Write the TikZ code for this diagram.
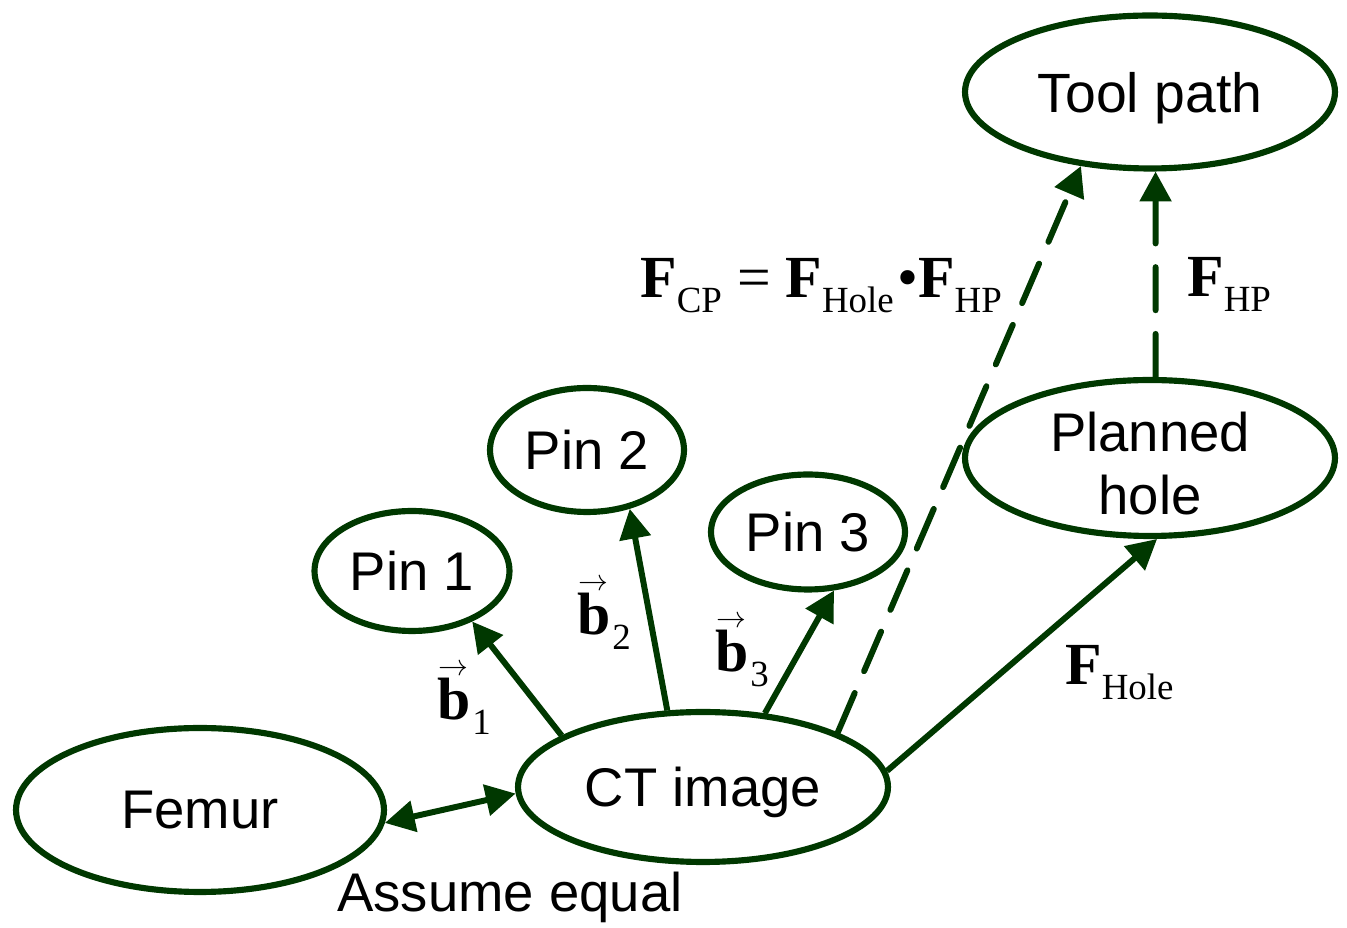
\documentclass[tikz,border=0pt]{standalone}
\usepackage{fontspec}
\setmainfont{Liberation Sans}
\newfontfamily\serifrm{Liberation Serif}
\usetikzlibrary{shapes.geometric,arrows.meta}
\definecolor{dg}{RGB}{0,56,0}
\newcommand\Fsub[1]{{\serifrm\fontsize{34}{38}\selectfont\bfseries F}{\serifrm\fontsize{21}{24}\selectfont\raisebox{-8pt}{#1}}}
\newcommand\bsub[1]{{\serifrm\fontsize{34}{38}\selectfont\bfseries\rlap{\hspace{0.5pt}\raisebox{25.5pt}{\resizebox{17pt}{!}{$\rightarrow$}}}b}{\serifrm\fontsize{21}{24}\selectfont\raisebox{-8.5pt}{\hspace{1pt}#1}}}
\begin{document}
\begin{tikzpicture}[x=0.02cm,y=-0.02cm,
  ell/.style={ellipse,draw=dg,line width=3.5pt,inner sep=0pt,text depth=0pt,font=\fontsize{31}{35}\selectfont,align=center},
  conn/.style={draw=dg,line width=3.4pt,-{Triangle[length=17pt,width=17.5pt]}},
  dsh/.style={conn,line cap=round,dash pattern=on 24.5pt off 13.5pt},
  lbl/.style={inner sep=0pt,anchor=base west}
]
\useasboundingbox (0,0) rectangle (1347,928);

\node[ell,minimum width=7.4cm,minimum height=3.06cm,font=\fontsize{31.5}{35}\selectfont] (tool) at (1150,92) {Tool path};
\node[ell,minimum width=7.4cm,minimum height=3.12cm] (hole) at (1150,458) {\raisebox{-5pt}{Planned}\\\raisebox{-6pt}{hole}};
\node[ell,minimum width=3.88cm,minimum height=2.48cm] (pin2) at (587,450) {Pin 2};
\node[ell,minimum width=3.88cm,minimum height=2.3cm] (pin3) at (808,532) {Pin 3};
\node[ell,minimum width=3.9cm,minimum height=2.4cm] (pin1) at (412,571) {Pin 1};
\node[ell,minimum width=7.4cm,minimum height=3.0cm] (ct) at (703,787) {CT image};
\node[ell,minimum width=7.36cm,minimum height=3.28cm] (femur) at (200,810) {Femur};

\draw[conn] (ct.160.9) -- (pin1.-40.7);
\draw[conn] (ct.115.6) -- (pin2.-54);
\draw[conn] (ct.50.4) -- (pin3.-66.7);
\draw[conn] (ct.5.3) -- (hole.-85);
\draw[dsh] (ct.22.2) -- (tool.-133.2);
\draw[dsh] (hole.86) -- (tool.-86);
\draw[conn,{Triangle[length=17pt,width=17.5pt]}-{Triangle[length=17pt,width=17.5pt]}] (femur.-4.9) -- (ct.182.8);

\node[lbl] (fcp) at (640,298) {\Fsub{CP}\hspace{9pt}{\serifrm\fontsize{34}{38}\selectfont=}\hspace{8pt}\Fsub{Hole}\hspace{2pt}{\serifrm\fontsize{34}{38}\selectfont\textbullet}\Fsub{HP}};
\node[lbl] (fhp) at (1187,297) {\Fsub{HP}};
\node[lbl] (fhole) at (1065,685) {\Fsub{Hole}};
\node[lbl] (b1) at (437,720) {\bsub{1}};
\node[lbl] (b2) at (577,635) {\bsub{2}};
\node[lbl] (b3) at (715,672) {\bsub{3}};
\node[inner sep=0pt,font=\fontsize{31}{35}\selectfont] (eq) at (510,897) {Assume equal};
\end{tikzpicture}
\end{document}
